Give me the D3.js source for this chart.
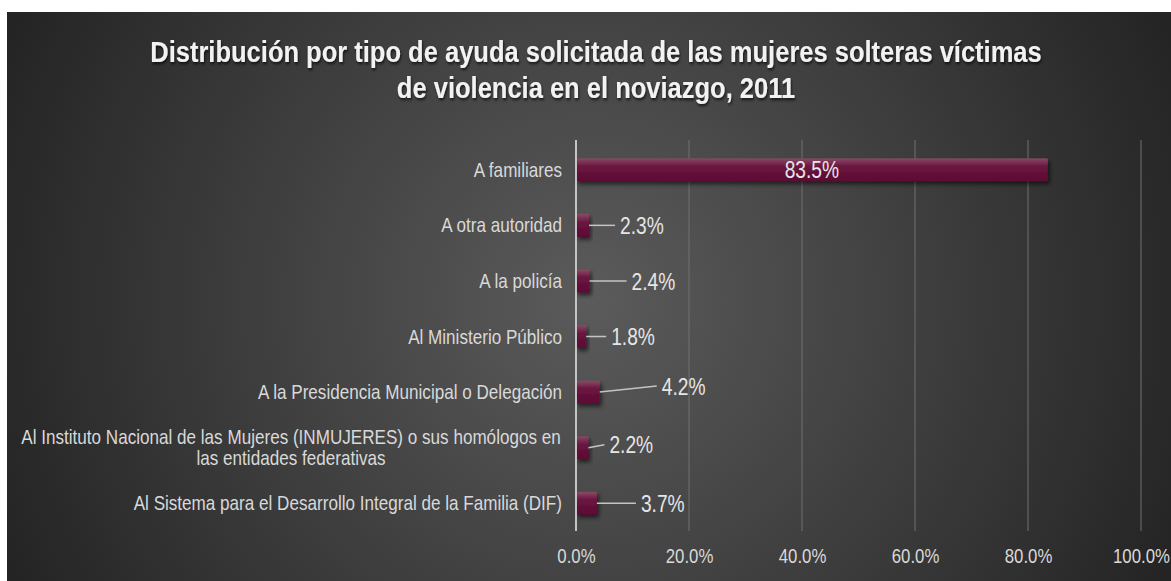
<!DOCTYPE html>
<html>
<head>
<meta charset="utf-8">
<script src="https://cdn.jsdelivr.net/npm/d3@7"></script>
<style>
  body { margin: 0; background: #fff; }
  svg { display: block; }
  text { font-family: "Liberation Sans Narrow", "Arial Narrow", "Liberation Sans", Arial, sans-serif; }
</style>
</head>
<body>
<svg id="chart"></svg>
<script>
var categories = [
    "A familiares",
    "A otra autoridad",
    "A la policía",
    "Al Ministerio Público",
    "A la Presidencia Municipal o Delegación",
    "Al Instituto Nacional de las Mujeres (INMUJERES) o sus homólogos en|las entidades federativas",
    "Al Sistema para el Desarrollo Integral de la Familia (DIF)"
];
var values = [83.5, 2.3, 2.4, 1.8, 4.2, 2.2, 3.7];
var xTicks = [0, 20, 40, 60, 80, 100];
var titleLines = [
    "Distribución por tipo de ayuda solicitada de las mujeres solteras víctimas",
    "de violencia en el noviazgo, 2011"
];

// label placement (leader line lengths / vertical shift); first label sits inside its bar
var labelDx = [0, 26, 37, 20, 57, 16, 39];
var labelDy = [0, 0, 0, 0, -6, -3, 0];

var W = 1171, H = 581;
var margin = { top: 142, right: 30, bottom: 50, left: 576 };
var height = H - margin.top - margin.bottom;

// no narrow font installed, so squeeze the regular one horizontally
var NARROW = 0.855;

function narrowText(parent, tx, ty, sx) {
    return parent.append("text")
        .attr("transform", "translate(" + tx + "," + ty + ") scale(" + sx + ",1)");
}

var svg = d3.select("#chart")
    .attr("width", W)
    .attr("height", H);

var defs = svg.append("defs");

var bg = defs.append("radialGradient")
    .attr("id", "bg")
    .attr("gradientUnits", "userSpaceOnUse")
    .attr("cx", 590).attr("cy", 300).attr("r", 640);
bg.append("stop").attr("offset", "0%").attr("stop-color", "#5b5b5b");
bg.append("stop").attr("offset", "100%").attr("stop-color", "#242424");

var barGrad = defs.append("linearGradient")
    .attr("id", "barGrad")
    .attr("x1", 0).attr("y1", 0).attr("x2", 0).attr("y2", 1);
barGrad.append("stop").attr("offset", "0%").attr("stop-color", "#8a4a66");
barGrad.append("stop").attr("offset", "35%").attr("stop-color", "#6a1740");
barGrad.append("stop").attr("offset", "100%").attr("stop-color", "#5c0833");

var shadow = defs.append("filter").attr("id", "shadow")
    .attr("x", "-20%").attr("y", "-40%").attr("width", "150%").attr("height", "200%");
shadow.append("feDropShadow")
    .attr("dx", 2).attr("dy", 3).attr("stdDeviation", 2)
    .attr("flood-color", "#000").attr("flood-opacity", 0.6);

var tshadow = defs.append("filter").attr("id", "tshadow");
tshadow.append("feDropShadow")
    .attr("dx", 1).attr("dy", 2).attr("stdDeviation", 1.5)
    .attr("flood-color", "#000").attr("flood-opacity", 0.7);

svg.append("rect")
    .attr("x", 7).attr("y", 12)
    .attr("width", W - 7).attr("height", H - 12)
    .attr("fill", "url(#bg)");

// title
titleLines.forEach(function (t, i) {
    narrowText(svg, 596, 62 + i * 36, 0.88)
        .attr("text-anchor", "middle")
        .attr("fill", "#f2f2f2")
        .attr("font-size", 29)
        .attr("font-weight", "bold")
        .attr("filter", "url(#tshadow)")
        .text(t);
});

var x = d3.scaleLinear().domain([0, 100]).range([0, 565]);
var y = d3.scaleBand().domain(d3.range(categories.length))
    .range([0, height]).paddingInner(0.59).paddingOuter(0.295);

var g = svg.append("g")
    .attr("transform", "translate(" + margin.left + "," + margin.top + ")");

// grid
g.append("g")
    .selectAll("line")
    .data(xTicks.slice(1))
    .join("line")
    .attr("x1", function (d) { return x(d); })
    .attr("x2", function (d) { return x(d); })
    .attr("y1", -2).attr("y2", height)
    .attr("stroke", "#707070")
    .attr("stroke-width", 1);

// x axis labels
var x_axis = d3.axisBottom(x)
    .tickValues(xTicks)
    .tickSize(0)
    .tickPadding(18)
    .tickFormat(function (d) { return d.toFixed(1) + "%"; });

var xa = g.append("g")
    .attr("transform", "translate(0," + height + ")")
    .call(x_axis);
xa.select(".domain").remove();
xa.selectAll("text")
    .attr("fill", "#d9d9d9")
    .attr("font-size", 20)
    .attr("font-family", null)
    .attr("transform", "scale(0.84,1)");

// bars
g.append("g")
    .selectAll("rect")
    .data(values)
    .join("rect")
    .attr("x", 0)
    .attr("y", function (d, i) { return y(i); })
    .attr("width", function (d) { return x(d); })
    .attr("height", y.bandwidth())
    .attr("fill", "url(#barGrad)")
    .attr("filter", "url(#shadow)");

// zero axis line
g.append("line")
    .attr("x1", 0).attr("x2", 0)
    .attr("y1", -2).attr("y2", height)
    .attr("stroke", "#c4c4c4")
    .attr("stroke-width", 2);

// category labels
categories.forEach(function (c, i) {
    var lines = c.split("|");
    var cy = y(i) + y.bandwidth() / 2;
    if (lines.length > 1) {
        var t = narrowText(g, -285, cy, NARROW)
            .attr("fill", "#d9d9d9")
            .attr("font-size", 20)
            .attr("text-anchor", "middle");
        lines.forEach(function (l, j) {
            t.append("tspan")
                .attr("x", 0)
                .attr("y", -4 + j * 21)
                .text(l);
        });
    } else {
        narrowText(g, -14, cy, NARROW)
            .attr("fill", "#d9d9d9")
            .attr("font-size", 20)
            .attr("text-anchor", "end")
            .attr("dy", "0.35em")
            .text(c);
    }
});

// value labels with leader lines
values.forEach(function (v, i) {
    var cy = y(i) + y.bandwidth() / 2;
    var lbl = v.toFixed(1) + "%";
    if (i === 0) {
        narrowText(g, x(v) / 2, cy, 0.8)
            .attr("dy", "0.36em")
            .attr("text-anchor", "middle")
            .attr("fill", "#e6e6e6")
            .attr("font-size", 24)
            .text(lbl);
        return;
    }
    var x0 = x(v);
    var x1 = x0 + labelDx[i];
    g.append("line")
        .attr("x1", x0).attr("y1", cy)
        .attr("x2", x1).attr("y2", cy + labelDy[i])
        .attr("stroke", "#c4c4c4")
        .attr("stroke-width", 1.5);
    narrowText(g, x1 + 5, cy + labelDy[i], 0.8)
        .attr("dy", "0.36em")
        .attr("fill", "#e6e6e6")
        .attr("font-size", 24)
        .text(lbl);
});
</script>
</body>
</html>
